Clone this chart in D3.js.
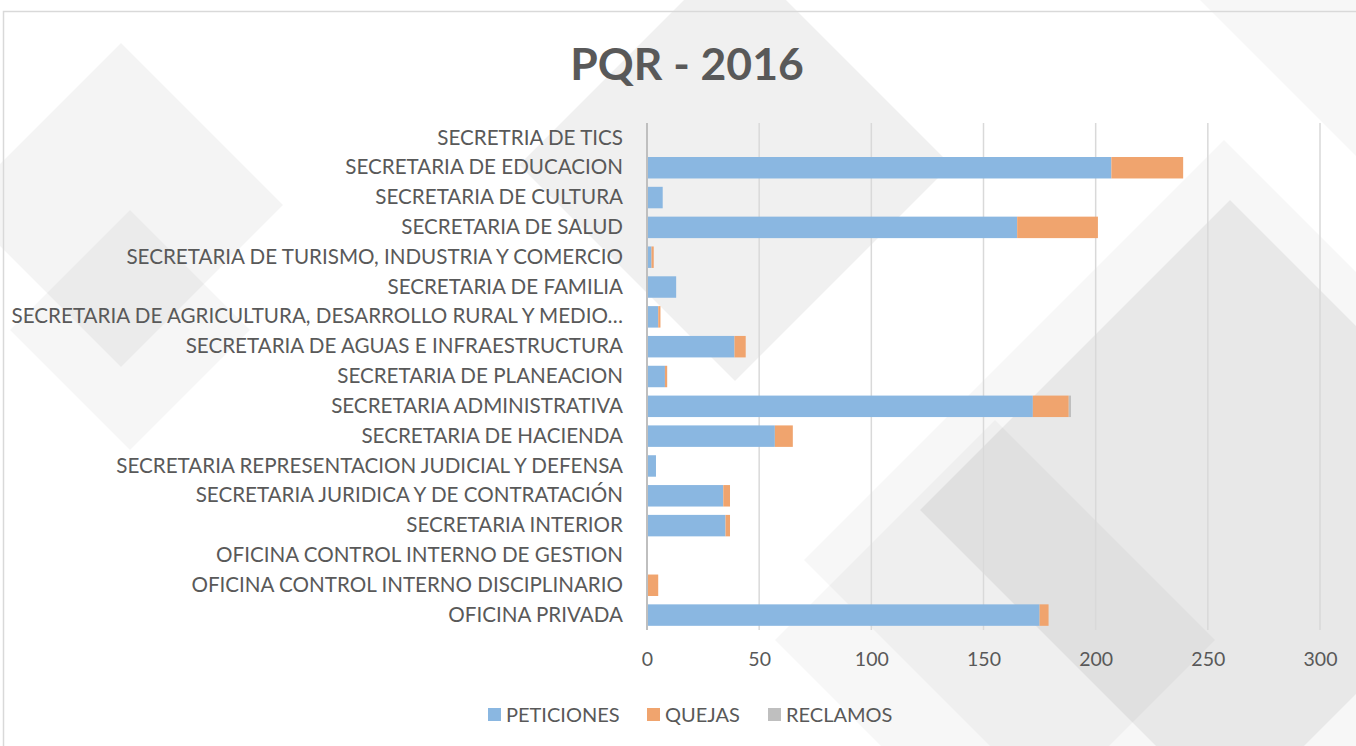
<!DOCTYPE html>
<html><head><meta charset="utf-8">
<script src="https://cdnjs.cloudflare.com/ajax/libs/d3/7.8.5/d3.min.js"></script>
<style>html,body{margin:0;padding:0;background:#fff;overflow:hidden}</style>
</head><body><svg id="c" width="1356" height="746"></svg>
<script>
const title = "PQR - 2016";
const categories = [
 "SECRETRIA DE TICS",
 "SECRETARIA DE EDUCACION",
 "SECRETARIA DE CULTURA",
 "SECRETARIA DE SALUD",
 "SECRETARIA DE TURISMO, INDUSTRIA Y COMERCIO",
 "SECRETARIA DE FAMILIA",
 "SECRETARIA DE AGRICULTURA, DESARROLLO RURAL Y MEDIO…",
 "SECRETARIA DE AGUAS E INFRAESTRUCTURA",
 "SECRETARIA DE PLANEACION",
 "SECRETARIA ADMINISTRATIVA",
 "SECRETARIA DE HACIENDA",
 "SECRETARIA REPRESENTACION JUDICIAL Y DEFENSA",
 "SECRETARIA JURIDICA Y DE CONTRATACIÓN",
 "SECRETARIA INTERIOR",
 "OFICINA CONTROL INTERNO DE GESTION",
 "OFICINA CONTROL INTERNO DISCIPLINARIO",
 "OFICINA PRIVADA"
];
const peticiones = [0,207,7,165,2,13,5,39,8,172,57,4,34,35,0,0,175];
const quejas     = [0,32,0,36,1,0,1,5,1,16,8,0,3,2,0,5,4];
const reclamos   = [0,0,0,0,0,0,0,0,0,1,0,0,0,0,0,0,0];
const seriesNames = ["PETICIONES","QUEJAS","RECLAMOS"];
const colors = ["#8ab7e1","#f0a46e","#bfbfbf"];
const xTicks = [0,50,100,150,200,250,300];

const svg = d3.select("#c");
const font = "Lato, 'Open Sans', sans-serif";
const textColor = "#595959";

// decorative background shapes
const bg = svg.append("g");
const diamond = (cx, cy, r) => `M${cx},${cy-r}L${cx+r},${cy}L${cx},${cy+r}L${cx-r},${cy}Z`;
[[121,205,162,0.045],[130,330,120,0.035],[735,165,216,0.06],[1224,560,420,0.03],[1230,510,310,0.06],[995,640,220,0.03],[1420,0,220,0.03]]
 .forEach(d => bg.append("path").attr("d", diamond(d[0],d[1],d[2])).attr("fill","#000").attr("opacity",d[3]));
svg.append("rect").attr("x",3.5).attr("y",11.5).attr("width",1400).attr("height",800)
  .attr("fill","none").attr("stroke","#d9d9d9").attr("stroke-width",1.5);

const m = {left:647, right:1320, top:123, bottom:630};
const x = d3.scaleLinear().domain([0,300]).range([m.left, m.right]);
const y = d3.scaleBand().domain(categories).range([m.top, m.bottom]).paddingInner(0.28).paddingOuter(0.14);

// gridlines
svg.append("g").selectAll("line").data(xTicks.slice(1)).join("line")
  .attr("x1", d=>x(d)).attr("x2", d=>x(d)).attr("y1", m.top).attr("y2", m.bottom)
  .attr("stroke","#d9d9d9").attr("stroke-width",1.5);

// stacked bars
const rows = categories.map((c,i)=>({cat:c, PETICIONES:peticiones[i], QUEJAS:quejas[i], RECLAMOS:reclamos[i]}));
const stack = d3.stack().keys(seriesNames)(rows);
svg.append("g").selectAll("g").data(stack).join("g").attr("fill",(d,i)=>colors[i])
  .selectAll("rect").data(d=>d).join("rect")
  .attr("x", d=>x(d[0])).attr("width", d=>Math.max(0, x(d[1])-x(d[0])))
  .attr("y", d=>y(d.data.cat)).attr("height", y.bandwidth());

// y axis line
svg.append("line").attr("x1",m.left).attr("x2",m.left).attr("y1",m.top).attr("y2",m.bottom)
  .attr("stroke","#bfbfbf").attr("stroke-width",2);

// category labels
const yAxis = d3.axisLeft(y).tickSize(0).tickPadding(24);
const ya = svg.append("g").attr("transform",`translate(${m.left},0)`).call(yAxis);
ya.select(".domain").remove();
ya.selectAll("text").attr("font-family",font).attr("font-size",20.6).attr("fill",textColor);

// x axis labels
const xAxis = d3.axisBottom(x).tickValues(xTicks).tickSize(0).tickPadding(22);
const xa = svg.append("g").attr("transform",`translate(0,${m.bottom})`).call(xAxis);
xa.select(".domain").remove();
xa.selectAll("text").attr("font-family",font).attr("font-size",19.5).attr("fill",textColor);

// title
svg.append("text").attr("x",687).attr("y",80).attr("text-anchor","middle")
  .attr("font-family",font).attr("font-weight","bold").attr("font-size",44.5).attr("fill",textColor).text(title);

// legend
const legendX = [488, 647, 768];
const lg = svg.append("g").selectAll("g").data(seriesNames).join("g")
  .attr("transform",(d,i)=>`translate(${legendX[i]},708)`);
lg.append("rect").attr("width",13).attr("height",13).attr("fill",(d,i)=>colors[i]);
lg.append("text").attr("x",18).attr("y",13.5).attr("font-family",font).attr("font-size",20).attr("fill",textColor).text(d=>d);
</script></body></html>
